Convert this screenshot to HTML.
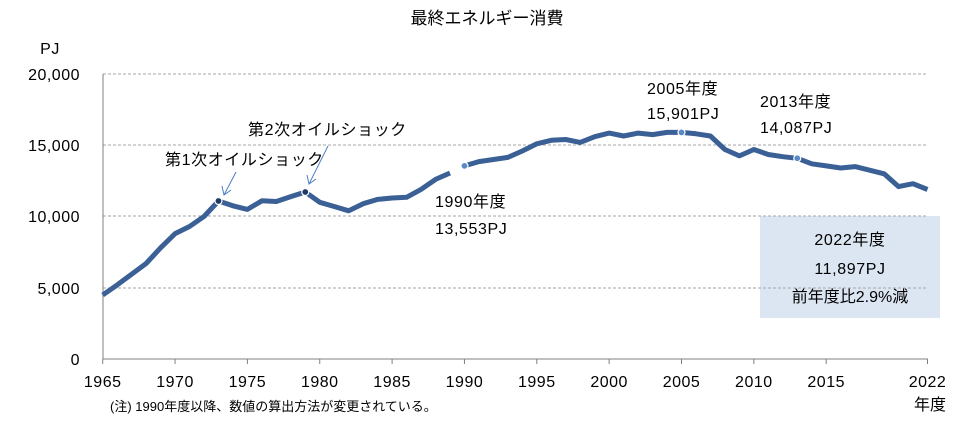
<!DOCTYPE html>
<html><head><meta charset="utf-8"><style>
html,body{margin:0;padding:0;background:#fff;}
svg{display:block;font-family:"Liberation Sans","Noto Sans CJK JP",sans-serif;}
</style></head><body>
<svg id="c" width="975" height="428" viewBox="0 0 975 428" xmlns="http://www.w3.org/2000/svg">
<rect width="975" height="428" fill="#fff"/>
<text x="487" y="24" font-size="17" text-anchor="middle" fill="#000">最終エネルギー消費</text>
<rect x="760" y="216" width="180" height="102" fill="#dce6f2"/>
<g stroke="#a6a6a6" stroke-dasharray="3,2" stroke-width="1">
<line x1="103" y1="74" x2="928" y2="74"/>
<line x1="103" y1="145" x2="928" y2="145"/>
<line x1="103" y1="216" x2="928" y2="216"/>
<line x1="103" y1="288" x2="928" y2="288"/>
</g>
<line x1="103" y1="74" x2="103" y2="359" stroke="#808080"/>
<line x1="103" y1="359" x2="928" y2="359" stroke="#808080"/>
<g font-size="16" fill="#000" text-anchor="end" letter-spacing="0.5">
<text x="50" y="54" text-anchor="middle">PJ</text>
<text x="80" y="80">20,000</text>
<text x="80" y="151">15,000</text>
<text x="80" y="222">10,000</text>
<text x="80" y="294">5,000</text>
<text x="80" y="365">0</text>
</g>
<g id="xt" font-size="16" fill="#000" text-anchor="middle" letter-spacing="0.5"></g>
<text x="930" y="410" font-size="16" text-anchor="middle">年度</text>
<text x="110" y="411" font-size="13">(注) 1990年度以降、数値の算出方法が変更されている。</text>
<path id="l1" fill="none" stroke="#3a6096" stroke-width="5" stroke-linejoin="round"/>
<path id="l2" fill="none" stroke="#3a6096" stroke-width="5" stroke-linejoin="round"/>
<g id="dots"></g>
<g font-size="16" fill="#000" letter-spacing="0.6">
<text x="165" y="165">第1次オイルショック</text>
<text x="248" y="135">第2次オイルショック</text>
<text x="435" y="207">1990年度</text>
<text x="435" y="234">13,553PJ</text>
<text x="647" y="94">2005年度</text>
<text x="647" y="119">15,901PJ</text>
<text x="760" y="107">2013年度</text>
<text x="760" y="133">14,087PJ</text>
<text x="850" y="245" text-anchor="middle">2022年度</text>
<text x="850" y="274" text-anchor="middle">11,897PJ</text>
<text x="850" y="302" text-anchor="middle" letter-spacing="0">前年度比2.9%減</text>
</g>
<g stroke="#4f7fc0" stroke-width="1" fill="none">
<line x1="236" y1="172" x2="224" y2="195"/><polyline points="222,186 224,195 231,190"/>
<line x1="328" y1="146" x2="309" y2="184"/><polyline points="307,175 309,184 316,179"/>
</g>
</svg>
<script>
var d1=[4490,5200,5950,6700,7800,8800,9300,10000,11090,10750,10500,11100,11050,11400,11720,11000,10700,10400,10900,11200,11300,11350,11900,12600,13050];
var d2=[13553,13850,14000,14150,14600,15100,15350,15400,15200,15600,15850,15650,15850,15750,15900,15901,15800,15650,14700,14250,14700,14350,14200,14087,13700,13550,13400,13500,13250,13000,12100,12300,11897];
function X(y){return 102.7+(y-1965)*14.47;}
function Y(v){return 359-v/5000*71.25;}
function p(a,s){return a.map(function(v,i){return (i?'L':'M')+X(s+i).toFixed(1)+','+Y(v).toFixed(1);}).join('');}
document.getElementById('l1').setAttribute('d',p(d1,1965));
document.getElementById('l2').setAttribute('d',p(d2,1990));
var ns='http://www.w3.org/2000/svg';
[[1973,11090,'#1f3864'],[1979,11720,'#1f3864'],[1990,13553,'#5a8ac6'],[2005,15901,'#5a8ac6'],[2013,14087,'#5a8ac6']].forEach(function(q){
var c=document.createElementNS(ns,'circle');c.setAttribute('cx',X(q[0]));c.setAttribute('cy',Y(q[1]));c.setAttribute('r',3.5);
c.setAttribute('fill',q[2]);c.setAttribute('stroke','#fff');c.setAttribute('stroke-width',1.2);document.getElementById('dots').appendChild(c);});
var g=document.getElementById('xt');
[1965,1970,1975,1980,1985,1990,1995,2000,2005,2010,2015,2022].forEach(function(y){
var t=document.createElementNS(ns,'text');t.setAttribute('x',X(y));t.setAttribute('y',387);t.textContent=y;g.appendChild(t);
var l=document.createElementNS(ns,'line');l.setAttribute('x1',X(y));l.setAttribute('x2',X(y));l.setAttribute('y1',359);l.setAttribute('y2',364);l.setAttribute('stroke','#808080');document.getElementById('c').appendChild(l);});
</script>
</body></html>
